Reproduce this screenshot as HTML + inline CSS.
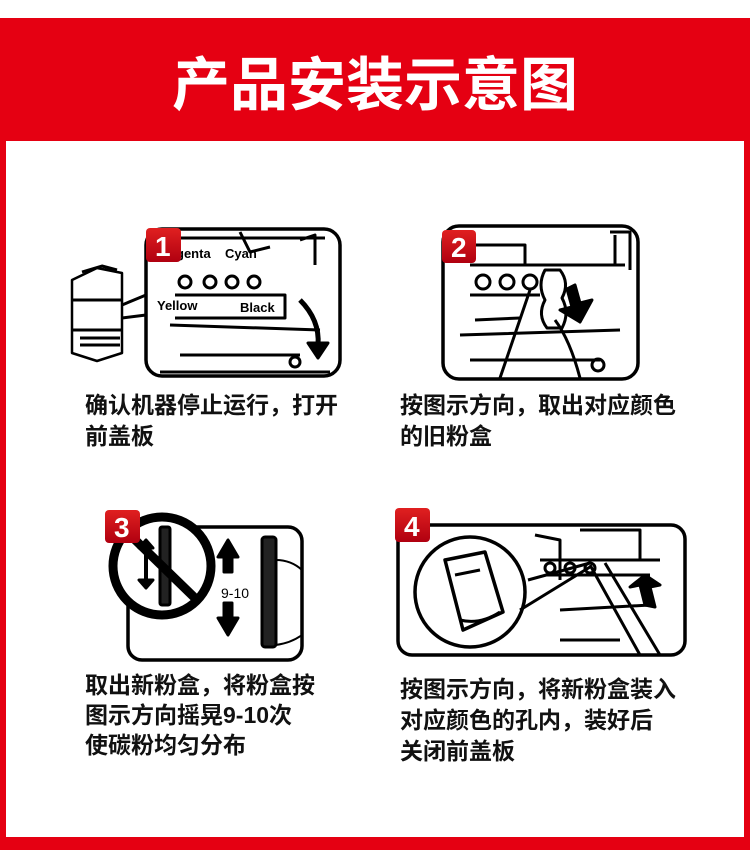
<!DOCTYPE html>
<html><head><meta charset="utf-8"><style>
body{margin:0;width:750px;height:850px;background:#fff;position:relative;overflow:hidden;font-family:"Liberation Sans","Noto Sans CJK SC",sans-serif}
.t{position:absolute;font-size:23px;line-height:31px;color:#111;font-weight:bold;font-family:"Liberation Sans","Noto Sans CJK SC",sans-serif}
</style></head><body>
<div style="position:absolute;left:0;top:18px;width:750px;height:832px;background:#e50012"></div>
<div style="position:absolute;left:6px;top:141px;width:738px;height:696px;background:#fff"></div>
<div style="position:absolute;left:0;top:38px;width:750px;text-align:center;color:#fff;font-size:58px;font-weight:bold;font-family:'Noto Sans CJK SC',sans-serif">产品安装示意图</div>

<svg width="750" height="850" style="position:absolute;left:0;top:0" fill="none" stroke="#000" stroke-width="3" stroke-linejoin="round">
<defs><linearGradient id="g" x1="0" y1="0" x2="0" y2="1"><stop offset="0" stop-color="#e02020"/><stop offset="1" stop-color="#b00010"/></linearGradient></defs>
<!-- Panel 1 -->
<rect x="146" y="229" width="194" height="147" rx="16" stroke-width="3.5"/>
<path d="M72 280 l25-12 l25 5 l0 80 l-25 8 l-25-8z" stroke-width="2.5"/>
<path d="M72 300 l50 0 M72 330 l50 0 M80 338 l40 0 M80 345 l40 0 M82 272 l20-6 l15 4"/>
<path d="M122 305 L146 295 M122 318 L146 315"/>
<path d="M160 238 L325 238 M240 232 l10 20 l20 -5 M300 240 l15 -5 l0 30"/>
<g stroke-width="3"><circle cx="185" cy="282" r="6"/><circle cx="210" cy="282" r="6"/><circle cx="232" cy="282" r="6"/><circle cx="254" cy="282" r="6"/></g>
<path d="M175 295 L285 295 L285 318 L175 318 M170 325 L320 330 M180 355 L300 355 M160 372 L330 372"/>
<path d="M300 300 q20 20 18 45" stroke-width="5"/><path d="M308 343 l20 0 l-10 15z" fill="#000"/>
<circle cx="295" cy="362" r="5"/>
<g fill="#000" stroke="none" font-family="Liberation Sans" font-size="13" font-weight="bold"><text x="176" y="258">genta</text><text x="225" y="258">Cyan</text><text x="157" y="310">Yellow</text><text x="240" y="312">Black</text></g>
<rect x="146" y="228" width="35" height="34" rx="4" fill="url(#g)" stroke="none"/>
<!-- Panel 2 -->
<rect x="443" y="226" width="195" height="153" rx="16" stroke-width="3.5"/>
<path d="M475 245 L525 245 L525 265 L615 265 L615 235 M470 265 L625 265 M610 232 L630 232 L630 270"/>
<g><circle cx="483" cy="282" r="7"/><circle cx="507" cy="282" r="7"/><circle cx="530" cy="282" r="7"/></g>
<path d="M470 295 L540 295 M475 320 L520 318 M460 335 L620 330 M470 360 L600 360"/>
<path d="M545 270 q-8 15 0 30 q-8 15 2 28 l15 0 q8 -15 0 -30 q8 -15 -2 -28z" stroke-width="3"/>
<path d="M530 290 L500 378 M555 320 q15 20 25 58" stroke-width="3"/>
<path d="M575 285 l5 18 l12 -3 l-12 22 l-20 -12 l12 -3 l-5 -18z" fill="#000"/>
<circle cx="598" cy="365" r="6"/>
<rect x="442" y="230" width="34" height="33" rx="4" fill="url(#g)" stroke="none"/>
<!-- Panel 3 -->
<rect x="128" y="527" width="174" height="133" rx="14" stroke-width="3.5"/>
<path d="M238 557 l-10 -17 l-10 17 l6 0 l0 15 l8 0 l0 -15z" fill="#000"/>
<path d="M238 618 l-10 17 l-10 -17 l6 0 l0 -15 l8 0 l0 15z" fill="#000"/>
<rect x="262" y="537" width="14" height="110" rx="3" fill="#222"/>
<path d="M276 560 q15 0 26 10 M276 645 q15 -2 26 -10" stroke-width="2"/>
<circle cx="162" cy="566" r="49" fill="#fff" stroke-width="9"/>
<rect x="160" y="527" width="10" height="78" rx="2" fill="#222"/>
<path d="M146 540 l-7 8 l14 0z M146 588 l-7 -8 l14 0z" fill="#000"/><path d="M146 545 L146 585" stroke-width="4"/>
<path d="M127 532 L197 600" stroke-width="9"/>
<text x="221" y="598" fill="#000" stroke="none" font-family="Liberation Sans" font-size="14">9-10</text>
<rect x="105" y="510" width="35" height="33" rx="4" fill="url(#g)" stroke="none"/>
<!-- Panel 4 -->
<rect x="398" y="525" width="287" height="130" rx="14" stroke-width="3.5"/>
<path d="M535 535 L560 540 L560 580 M580 530 L640 530 L640 560 M540 560 L660 560 M545 575 L650 575"/>
<g><circle cx="550" cy="568" r="5"/><circle cx="570" cy="568" r="5"/><circle cx="590" cy="568" r="5"/></g>
<path d="M590 565 L640 655 M605 563 L660 655 M560 610 L650 605 M560 640 L620 640" stroke-width="3"/>
<path d="M645 605 l-5 -20 l-10 2 l15 -12 l15 10 l-10 2 l5 20z" fill="#000"/>
<circle cx="470" cy="592" r="55" fill="#fff" stroke-width="3.5"/>
<path d="M520 610 L590 567 M528 580 L590 563"/>
<path d="M445 560 l40 -8 l18 60 l-40 18z" stroke-width="3.5"/>
<path d="M455 575 l25 -5 M460 620 q20 5 40 -8"/>
<rect x="395" y="508" width="35" height="34" rx="4" fill="url(#g)" stroke="none"/>
<g fill="#fff" stroke="none" font-family="Liberation Sans" font-weight="bold" font-size="28"><text x="155" y="256">1</text><text x="451" y="257">2</text><text x="114" y="537">3</text><text x="404" y="536">4</text></g>
</svg>

<div class="t" style="left:85px;top:390px">确认机器停止运行，打开<br>前盖板</div>
<div class="t" style="left:400px;top:390px">按图示方向，取出对应颜色<br>的旧粉盒</div>
<div class="t" style="left:85px;top:670px;line-height:30px">取出新粉盒，将粉盒按<br>图示方向摇晃9-10次<br>使碳粉均匀分布</div>
<div class="t" style="left:400px;top:674px;line-height:31px">按图示方向，将新粉盒装入<br>对应颜色的孔内，装好后<br>关闭前盖板</div>
</body></html>
